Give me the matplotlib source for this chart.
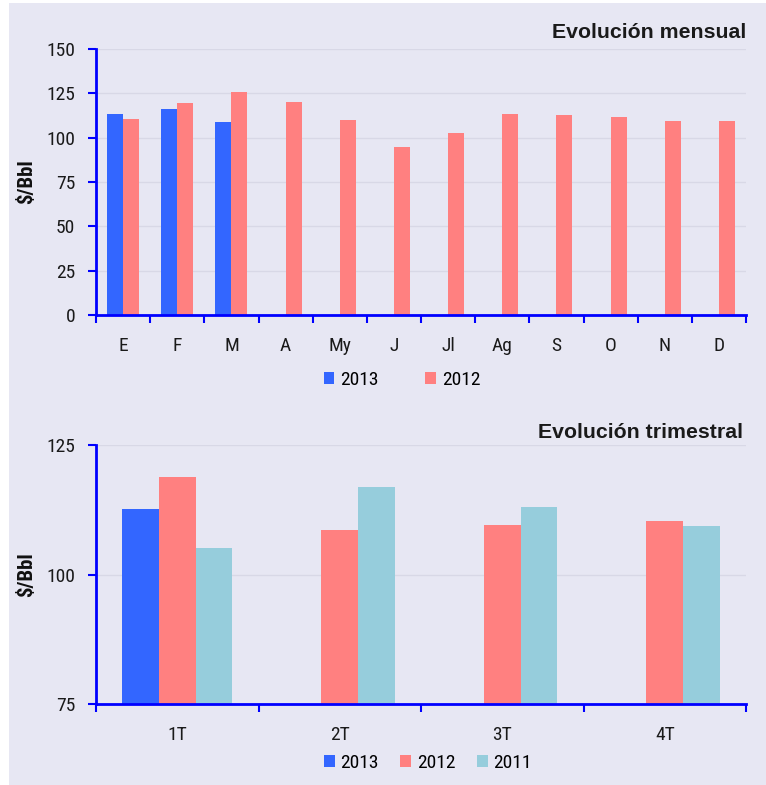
import matplotlib
matplotlib.use("Agg")
import matplotlib.pyplot as plt
from matplotlib import font_manager
from matplotlib.patches import Rectangle
import numpy as np

# ---------------- data ----------------
months = ["E", "F", "M", "A", "My", "J", "Jl", "Ag", "S", "O", "N", "D"]
m2013 = [113.3, 116.2, 108.8, np.nan, np.nan, np.nan, np.nan, np.nan, np.nan, np.nan, np.nan, np.nan]
m2012 = [110.5, 119.5, 125.8, 120.1, 110.0, 94.7, 102.6, 113.3, 112.8, 111.7, 109.4, 109.4]
month_yticks = [0, 25, 50, 75, 100, 125, 150]

quarters = ["1T", "2T", "3T", "4T"]
q2013 = [112.6, np.nan, np.nan, np.nan]
q2012 = [118.8, 108.5, 109.5, 110.3]
q2011 = [105.2, 116.8, 113.0, 109.3]
quarter_yticks = [75, 100, 125]

title_top = "Evolución mensual"
title_bot = "Evolución trimestral"
ylabel = "$/Bbl"

# ---------------- style ----------------
C2013 = "#3366FF"
C2012 = "#FF8080"
C2011 = "#96CDDC"
BG = "#E7E7F3"
AXC = "#0000FF"
GRID = "#D8D8E6"

names = {f.name for f in font_manager.fontManager.ttflist}
narrow = None
for cand in ["Liberation Sans Narrow", "DejaVu Sans Condensed", "Roboto Condensed", "Open Sans Condensed"]:
    if cand in names:
        narrow = cand
        break
if narrow is None:
    narrow = "DejaVu Sans"
    NFS = 11
else:
    NFS = 14
TITLEF = "Liberation Sans" if "Liberation Sans" in names else "DejaVu Sans"

W, H = 766, 785
fig = plt.figure(figsize=(W / 100, H / 100), dpi=100, facecolor="white")
fig.patches.append(Rectangle((9 / W, 0 / H), 1 - 9 / W, 1 - 3 / H,
                             transform=fig.transFigure, facecolor=BG, edgecolor="none", zorder=-10))


def style_axes(ax, ncat, yticks):
    ax.set_facecolor("none")
    for s in ["top", "right"]:
        ax.spines[s].set_visible(False)
    for s in ["left", "bottom"]:
        ax.spines[s].set_color(AXC)
        ax.spines[s].set_linewidth(2)
    ax.set_xlim(-0.5, ncat - 0.5)
    ax.set_yticks(yticks)
    ax.set_ylim(yticks[0], yticks[-1])
    ax.yaxis.grid(True, color=GRID, linewidth=1)
    ax.set_axisbelow(True)
    ax.tick_params(axis="y", direction="out", length=6, width=1.5, color=AXC,
                   pad=9, labelsize=NFS, labelcolor="#1a1a1a")
    ax.set_xticks(np.arange(ncat + 1) - 0.5)
    ax.set_xticklabels([])
    ax.tick_params(axis="x", which="major", direction="out", length=6, width=1.5, color=AXC)
    ax.set_xticks(np.arange(ncat), minor=True)
    ax.tick_params(axis="x", which="minor", length=0, pad=16, labelsize=NFS, labelcolor="#1a1a1a")
    for lab in ax.get_yticklabels() + ax.get_xticklabels(minor=True):
        lab.set_family(narrow)
    ax.set_ylabel(ylabel, fontsize=15, fontweight="bold", family=narrow, color="#111111")


# ---------------- top chart ----------------
ax1 = fig.add_axes([96 / W, 1 - 315 / H, 650 / W, 266 / H])
x = np.arange(len(months))
w = 0.295
b1 = ax1.bar(x - w / 2, m2013, w, color=C2013, label="2013", zorder=2)
b2 = ax1.bar(x + w / 2, m2012, w, color=C2012, label="2012", zorder=2)
style_axes(ax1, len(months), month_yticks)
ax1.set_xticklabels(months, minor=True, family=narrow)
ax1.yaxis.set_label_coords(-0.092, 0.5)
fig.text(746 / W, 1 - 38 / H, title_top, ha="right", va="baseline",
         fontsize=15.3, fontweight="bold", family=TITLEF, color="#1a1a1a")
fig.legend(handles=[b1, b2], loc="center", bbox_to_anchor=(402 / W, 1 - 380 / H),
           ncol=2, frameon=False, prop={"family": narrow, "size": NFS},
           handlelength=0.55, handleheight=0.55, handletextpad=0.3, columnspacing=2.4)

# ---------------- bottom chart ----------------
ax2 = fig.add_axes([96 / W, 1 - 704 / H, 650 / W, 259 / H])
xq = np.arange(len(quarters))
wq = 0.226
c1 = ax2.bar(xq - wq, q2013, wq, color=C2013, label="2013", zorder=2)
c2 = ax2.bar(xq, q2012, wq, color=C2012, label="2012", zorder=2)
c3 = ax2.bar(xq + wq, q2011, wq, color=C2011, label="2011", zorder=2)
style_axes(ax2, len(quarters), quarter_yticks)
ax2.set_xticklabels(quarters, minor=True, family=narrow)
ax2.yaxis.set_label_coords(-0.092, 0.5)
fig.text(743 / W, 1 - 438 / H, title_bot, ha="right", va="baseline",
         fontsize=15.3, fontweight="bold", family=TITLEF, color="#1a1a1a")
fig.legend(handles=[c1, c2, c3], loc="center", bbox_to_anchor=(428 / W, 1 - 763 / H),
           ncol=3, frameon=False, prop={"family": narrow, "size": NFS},
           handlelength=0.55, handleheight=0.55, handletextpad=0.3, columnspacing=1.1)

fig.savefig("out.png", dpi=100, facecolor="white")
